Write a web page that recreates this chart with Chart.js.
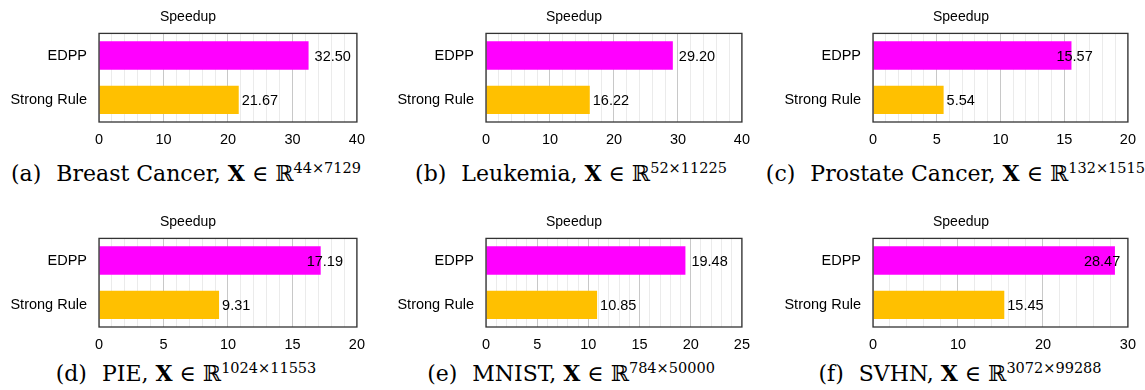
<!DOCTYPE html>
<html>
<head>
<meta charset="utf-8">
<script src="https://cdn.jsdelivr.net/npm/chart.js@4"></script>
<style>
  body { margin: 0; background: #fff; width: 1145px; height: 390px; position: relative; overflow: hidden; }
  canvas { position: absolute; }
  .cap {
    position: absolute; width: 600px; text-align: center; white-space: nowrap;
    font-family: "DejaVu Serif", "Liberation Serif", serif; font-size: 22px; line-height: 22px; color: #000;
  }
  .cap .lab { margin-right: 15px; }
  .cap sup { font-size: 14.5px; line-height: 0; position: relative; top: -8px; vertical-align: baseline; }
</style>
</head>
<body>
<canvas id="c0" width="372" height="150"></canvas>
<canvas id="c1" width="370" height="150"></canvas>
<canvas id="c2" width="368" height="150"></canvas>
<canvas id="c3" width="372" height="150"></canvas>
<canvas id="c4" width="370" height="150"></canvas>
<canvas id="c5" width="368" height="150"></canvas>
<script>
// data
const methods = ["EDPP", "Strong Rule"];
const datasetNames = ["Breast Cancer", "Leukemia", "Prostate Cancer", "PIE", "MNIST", "SVHN"];
const dims = ["44×7129", "52×11225", "132×15154", "1024×11553", "784×50000", "3072×99288"];
const edpp = [32.50, 29.20, 15.57, 17.19, 19.48, 28.47];
const strongRule = [21.67, 16.22, 5.54, 9.31, 10.85, 15.45];
const axisMax = [40, 40, 20, 20, 25, 30];
const majorStep = [10, 10, 5, 5, 5, 10];

// layout / style
const colLeft = [2, 389, 777];
const yAxisWidth = [97, 97, 96];
const rowTop = [0, 205];
const capCenter = [186, 571, 960];
const capBaseline = [180, 380];
const edppLabelShift = [6, 6, -15, -14, 6, -31];
const srLabelShift = 3;
const FONT = '"Liberation Sans", Arial, sans-serif';

const valueLabels = {
  id: "valueLabels",
  afterDatasetsDraw(chart, args, opts) {
    const ctx = chart.ctx;
    const meta = chart.getDatasetMeta(0);
    ctx.save();
    ctx.font = "14.5px " + FONT;
    ctx.fillStyle = "#000";
    ctx.textBaseline = "middle";
    ctx.textAlign = "left";
    meta.data.forEach(function (bar, i) {
      const v = chart.data.datasets[0].data[i];
      const dx = i === 0 ? opts.edppShift : srLabelShift;
      ctx.fillText(v.toFixed(2), bar.x + dx, bar.y + 1);
    });
    ctx.restore();
  }
};

const frame = {
  id: "frame",
  afterDraw(chart) {
    const a = chart.chartArea;
    const ctx = chart.ctx;
    ctx.save();
    ctx.strokeStyle = "#333";
    ctx.lineWidth = 1.3;
    ctx.strokeRect(a.left, a.top, a.right - a.left, a.bottom - a.top);
    ctx.restore();
  }
};

for (let k = 0; k < 6; k++) {
  const col = k % 3, row = Math.floor(k / 3);
  const cv = document.getElementById("c" + k);
  cv.style.left = colLeft[col] + "px";
  cv.style.top = rowTop[row] + "px";
  const major = majorStep[k];

  new Chart(cv.getContext("2d"), {
    type: "bar",
    data: {
      labels: methods,
      datasets: [{
        data: [edpp[k], strongRule[k]],
        backgroundColor: ["#ff00ff", "#ffc000"],
        borderWidth: 0,
        categoryPercentage: 1,
        barPercentage: 0.64
      }]
    },
    options: {
      indexAxis: "y",
      responsive: false,
      devicePixelRatio: 1,
      animation: false,
      layout: { padding: 0 },
      scales: {
        x: {
          min: 0,
          max: axisMax[k],
          border: { display: false },
          grid: {
            drawTicks: false,
            color: function (c) {
              const r = c.tick.value / major;
              return Math.abs(r - Math.round(r)) < 1e-6 ? "#c8c8c8" : "#ebebeb";
            },
            lineWidth: 1
          },
          ticks: {
            stepSize: major / 5,
            maxTicksLimit: 100,
            autoSkip: false,
            maxRotation: 0,
            padding: 9,
            color: "#000",
            font: { family: FONT, size: 14.5 },
            callback: function (v) {
              const r = v / major;
              return Math.abs(r - Math.round(r)) < 1e-6 ? String(v) : "";
            }
          },
          afterFit: function (s) { s.height = 28; }
        },
        y: {
          border: { display: false },
          grid: { display: false, drawTicks: false },
          ticks: { padding: 12, color: "#000", font: { family: FONT, size: 14.5 } },
          afterFit: function (s) { s.width = yAxisWidth[col]; }
        }
      },
      plugins: {
        legend: { display: false },
        tooltip: { enabled: false },
        title: {
          display: true,
          text: "Speedup",
          color: "#000",
          font: { family: FONT, size: 14, weight: "normal" },
          padding: { top: 9, bottom: 7.6 }
        },
        valueLabels: { edppShift: edppLabelShift[k] }
      }
    },
    plugins: [valueLabels, frame]
  });

  // caption below each panel
  const cap = document.createElement("div");
  cap.className = "cap";
  cap.style.left = (capCenter[col] - 300) + "px";
  cap.style.top = (capBaseline[row] - 18) + "px";
  cap.innerHTML = '<span class="lab">(' + "abcdef"[k] + ")</span>" + datasetNames[k] + ", <b>X</b> ∈ ℝ<sup>" + dims[k] + "</sup>";
  document.body.appendChild(cap);
}
</script>
</body>
</html>
